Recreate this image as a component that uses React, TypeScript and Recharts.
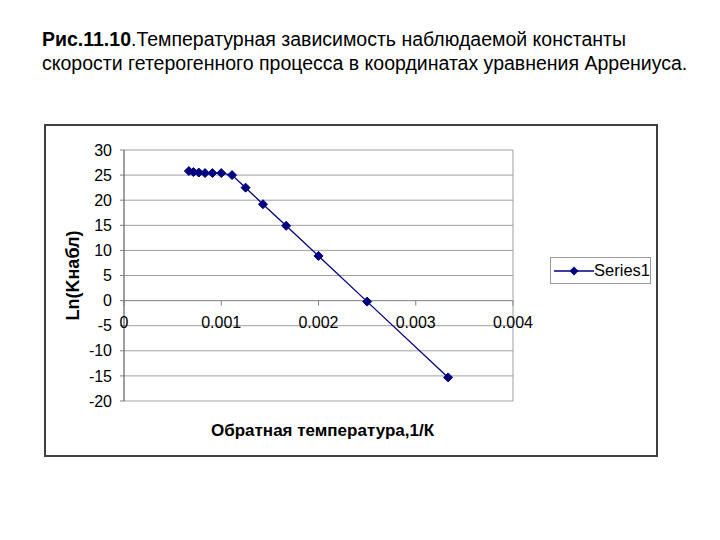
import React from "react";
import {
  CartesianGrid,
  Line,
  LineChart,
  ReferenceLine,
  XAxis,
  YAxis,
} from "recharts";

// 1/T, 1/K  (T = 1500 ... 300 K)
const inverseTemp = [
  0.000667, 0.000714, 0.000769, 0.000833, 0.000909, 0.001, 0.001111, 0.00125,
  0.001429, 0.001667, 0.002, 0.0025, 0.003333,
];
const lnK = [25.8, 25.6, 25.5, 25.4, 25.4, 25.4, 25.0, 22.5, 19.2, 14.9, 8.9, -0.2, -15.3];

const xTicks = [0, 0.001, 0.002, 0.003, 0.004];
const yTicks = [-20, -15, -10, -5, 0, 5, 10, 15, 20, 25, 30];
const seriesName = "Series1";

const data = inverseTemp.map((x, i) => ({ x, y: lnK[i] }));

const FONT = "'Liberation Sans', Arial, sans-serif";
const NAVY = "#000080";
const PLOT_H = 251;
const Y_MIN = -20;
const Y_MAX = 30;

function Diamond(props: any) {
  const { cx, cy } = props;
  if (cx == null || cy == null) return null;
  const r = 4.5;
  return (
    <path
      d={`M${cx},${cy - r}L${cx + r},${cy}L${cx},${cy + r}L${cx - r},${cy}Z`}
      fill={NAVY}
      stroke={NAVY}
    />
  );
}

// x ticks sit on the zero line, not at the bottom of the plot
function XTick(props: any) {
  const { x, y, payload } = props;
  const zeroY = y - (PLOT_H * (0 - Y_MIN)) / (Y_MAX - Y_MIN);
  const label = payload.value === 0 ? "0" : Number(payload.value).toFixed(3);
  return (
    <g>
      <line x1={x} x2={x} y1={zeroY} y2={zeroY + 5} stroke="#808080" />
      <text x={x} y={zeroY + 27} textAnchor="middle" fontSize={16} fill="#000" fontFamily={FONT}>
        {label}
      </text>
    </g>
  );
}

function LegendBox() {
  return (
    <div
      style={{
        position: "absolute",
        left: 504,
        top: 131,
        width: 101,
        height: 27,
        border: "1px solid #999",
        boxSizing: "border-box",
        display: "flex",
        alignItems: "center",
        fontFamily: FONT,
        fontSize: 16.5,
        background: "#fff",
      }}
    >
      <svg width={44} height={12} style={{ marginLeft: 2 }}>
        <line x1={1} x2={41} y1={6} y2={6} stroke={NAVY} strokeWidth={1.3} />
        <path d="M21,1.5L25.5,6L21,10.5L16.5,6Z" fill={NAVY} />
      </svg>
      <span>{seriesName}</span>
    </div>
  );
}

export default function App() {
  return (
    <div style={{ position: "absolute", left: 0, top: 0, width: 720, height: 540, background: "#fff" }}>
      <div
        style={{
          position: "absolute",
          left: 42,
          top: 27,
          fontFamily: FONT,
          fontSize: 19.5,
          lineHeight: "24px",
          color: "#000",
          whiteSpace: "nowrap",
        }}
      >
        <div>
          <b>Рис.11.10</b>.Температурная зависимость наблюдаемой константы
        </div>
        <div>скорости гетерогенного процесса в координатах уравнения Аррениуса.</div>
      </div>

      <div
        style={{
          position: "absolute",
          left: 44,
          top: 124,
          width: 614,
          height: 333,
          border: "2px solid #404040",
          boxSizing: "border-box",
          background: "#fff",
        }}
      >
        <LineChart
          width={610}
          height={329}
          data={data}
          margin={{ top: 24, right: 143, bottom: 24, left: 18 }}
        >
          <CartesianGrid vertical={false} stroke="#a0a0a0" />
          <XAxis
            dataKey="x"
            type="number"
            domain={[0, 0.004]}
            ticks={xTicks}
            height={30}
            axisLine={false}
            tickLine={false}
            tickSize={0}
            tickMargin={0}
            tick={<XTick />}
            interval={0}
            label={{
              content: (p: any) => {
                const vb = p.viewBox;
                return (
                  <text
                    x={vb.x + vb.width / 2 + 4}
                    y={vb.y + 35}
                    textAnchor="middle"
                    fontFamily={FONT}
                    fontSize={17}
                    fontWeight="bold"
                    fill="#000"
                  >
                    Обратная температура,1/К
                  </text>
                );
              },
            }}
          />
          <YAxis
            type="number"
            domain={[Y_MIN, Y_MAX]}
            ticks={yTicks}
            interval={0}
            width={60}
            axisLine={{ stroke: "#404040" }}
            tickLine={{ stroke: "#808080" }}
            tickSize={4}
            tickMargin={8}
            tick={{ fontSize: 16, fill: "#000", fontFamily: FONT }}
            label={{
              content: (p: any) => {
                const vb = p.viewBox;
                const cx = vb.x + 9;
                const cy = vb.y + vb.height / 2;
                return (
                  <text
                    x={cx}
                    y={cy}
                    transform={`rotate(-90, ${cx}, ${cy})`}
                    textAnchor="middle"
                    dominantBaseline="central"
                    fontFamily={FONT}
                    fontSize={18}
                    fontWeight="bold"
                    fill="#000"
                  >
                    Ln(Kнабл)
                  </text>
                );
              },
            }}
          />
          <ReferenceLine y={0} stroke="#909090" />
          <ReferenceLine x={0.004} stroke="#a0a0a0" />
          <Line
            name={seriesName}
            dataKey="y"
            type="linear"
            stroke={NAVY}
            strokeWidth={1.3}
            dot={<Diamond />}
            activeDot={false}
            isAnimationActive={false}
          />
        </LineChart>
        <LegendBox />
      </div>
    </div>
  );
}
